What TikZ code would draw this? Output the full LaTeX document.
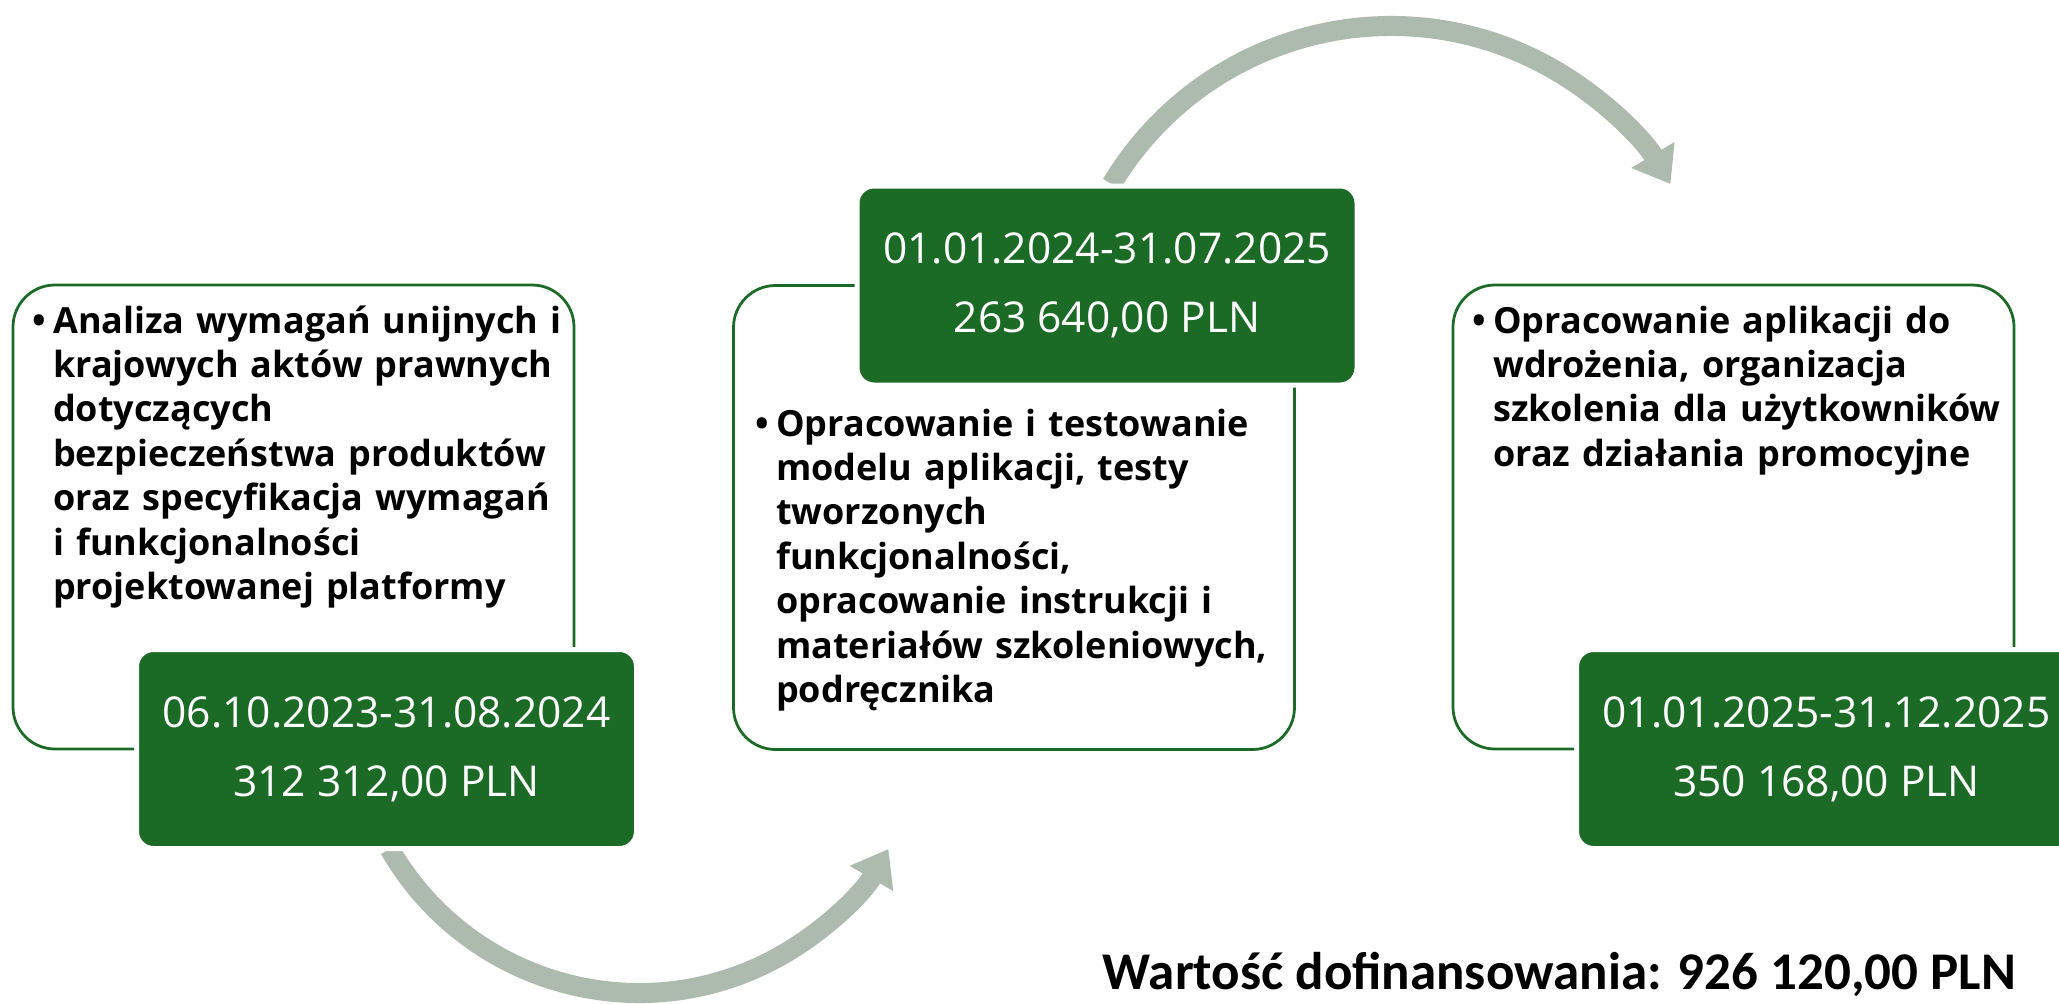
\documentclass[tikz,border=0pt]{standalone}
\usepackage{fontspec}
\setmainfont{Open Sans}
\newfontfamily\calfont{Carlito}
\usetikzlibrary{arrows.meta}
\definecolor{dgreen}{RGB}{27,106,38}
\definecolor{arrowc}{RGB}{172,187,174}
\begin{document}
\begin{tikzpicture}[x=1pt,y=-1pt,
  card/.style={draw=dgreen, line width=2.75pt, fill=white, rounded corners=42pt,
    minimum width=561pt, minimum height=464pt, inner sep=0pt},
  datebox/.style={draw=white, line width=5pt, fill=dgreen, rounded corners=17pt,
    minimum width=500pt, minimum height=199pt, inner sep=0pt, align=center,
    text=white, font=\fontsize{42.5}{69}\selectfont},
  desc/.style={anchor=base west, text width=600pt, align=left, inner sep=0pt,
    font=\fontsize{36}{44.4}\selectfont\bfseries},
  flow/.style={draw=arrowc, line width=20pt, -{Triangle[width=48pt,length=34pt]}}
]
\useasboundingbox (0,0) rectangle (2059,1004);
\clip (0,0) rectangle (2059,1004);
\fill[white] (0,0) rectangle (2059,1004);

% curved arrows (behind the boxes)
\coordinate (a1s) at (389.6,849);
\draw[flow] (a1s) arc[start angle=150, end angle=30, radius=288];
\coordinate (a2s) at (1111.6,184.1);
\draw[flow] (a2s) arc[start angle=211, end angle=329, radius=326];

% outlined cards
\node[card] (c1) at (293.5,517) {};
\node[card] (c2) at (1014,517.5) {};
\node[card] (c3) at (1733.5,517) {};

% descriptions
\node[desc] (t1) at (53,333) {\llap{\textbullet\hspace{7pt}}Analiza wymagań unijnych i\\
krajowych aktów prawnych\\
dotyczących\\
bezpieczeństwa produktów\\
oraz specyfikacja wymagań\\
i funkcjonalności\\
projektowanej platformy};

\node[desc] (t2) at (776,436) {\llap{\textbullet\hspace{7pt}}Opracowanie i testowanie\\
modelu aplikacji, testy\\
tworzonych\\
funkcjonalności,\\
opracowanie instrukcji i\\
materiałów szkoleniowych,\\
podręcznika};

\node[desc] (t3) at (1493,333) {\llap{\textbullet\hspace{7pt}}Opracowanie aplikacji do\\
wdrożenia, organizacja\\
szkolenia dla użytkowników\\
oraz działania promocyjne};

% green date boxes
\node[datebox] (d1) at (386.5,749) {06.10.2023-31.08.2024\\312 312,00 PLN};
\node[datebox] (d2) at (1107,285.5) {01.01.2024-31.07.2025\\263 640,00 PLN};
\node[datebox] (d3) at (1826.5,749) {01.01.2025-31.12.2025\\350 168,00 PLN};

% total
\node[anchor=base east, inner sep=0pt, font=\calfont\bfseries\fontsize{53}{60}\selectfont] (total) at (2016,989) {Wartość dofinansowania: 926 120,00 PLN};
\end{tikzpicture}
\end{document}
